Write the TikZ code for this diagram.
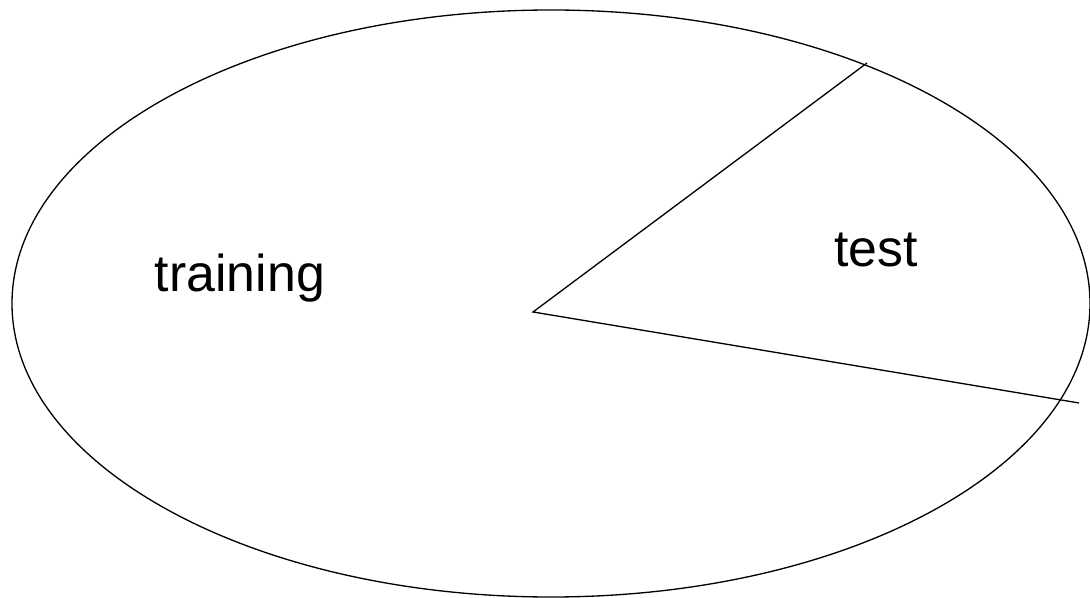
\documentclass[tikz,border=0pt]{standalone}
\usepackage{fontspec}
\setmainfont{Liberation Sans}
\usetikzlibrary{calc}
\tikzset{
  rim/.style={draw, line width=0.75pt},
  cut/.style={line width=0.75pt},
  lab/.style={font=\fontsize{29.5}{34}\selectfont, inner sep=0pt, anchor=base}
}

\begin{document}
\begin{tikzpicture}
		\useasboundingbox (0,0) rectangle (21.8,-11.96);
		% whole data set
		\coordinate (mid) at (11.02,-6.07);
		\draw[rim] (mid) ellipse [x radius=10.78, y radius=5.87];
		% split
		\coordinate (hub) at (10.66,-6.24);
		\coordinate (upper) at (17.34,-1.26);
		\coordinate (lower) at (21.58,-8.06);
		\draw[cut] (upper) -- (hub) -- (lower);
		% parts
		\node[lab] (train) at (4.8,-5.84) {training};
		\node[lab] (test) at (17.52,-5.34) {test};
	\end{tikzpicture}
\end{document}
